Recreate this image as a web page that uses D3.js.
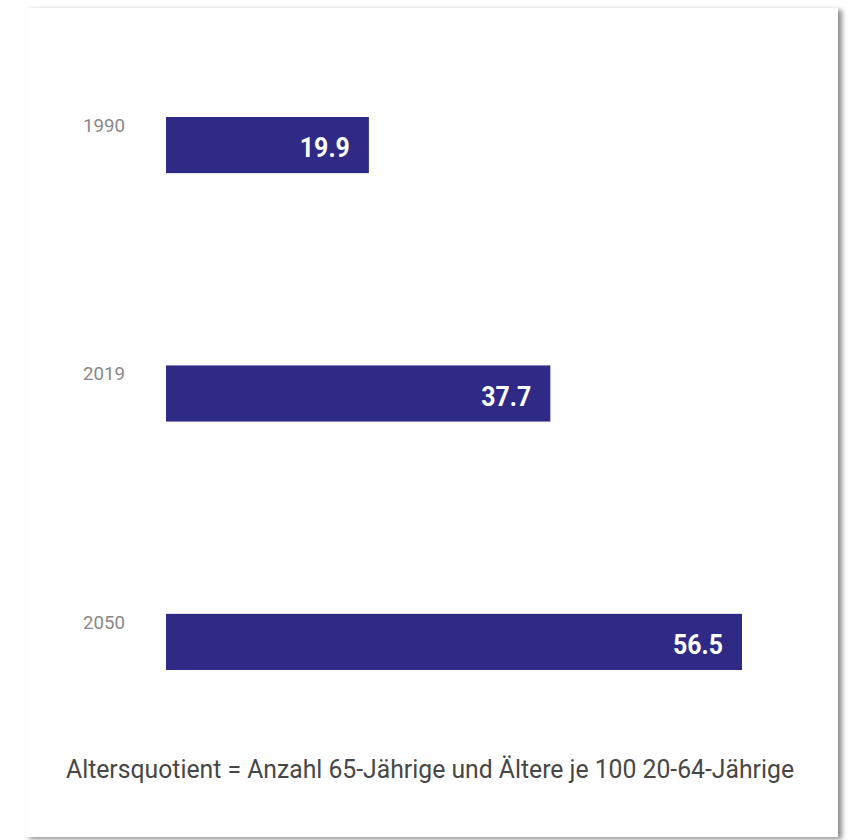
<!DOCTYPE html>
<html>
<head>
<meta charset="utf-8">
<script src="https://cdn.jsdelivr.net/npm/d3@7"></script>
<style>
  body { margin: 0; background: #ffffff; }
  svg { display: block; }
</style>
</head>
<body>
<div id="chart"></div>
<script>
// data
const years = ['1990', '2019', '2050'];
const values = [19.9, 37.7, 56.5];
const note = 'Altersquotient = Anzahl 65-Jährige und Ältere je 100 20-64-Jährige';

const width = 848, height = 840;
const svg = d3.select('#chart').append('svg')
    .attr('width', width).attr('height', height);

const defs = svg.append('defs');
const shadow = defs.append('filter').attr('id', 'shadow')
    .attr('x', '-5%').attr('y', '-5%').attr('width', '110%').attr('height', '110%');
shadow.append('feDropShadow')
    .attr('dx', 4).attr('dy', 2).attr('stdDeviation', 2.5)
    .attr('flood-color', '#000').attr('flood-opacity', 0.45);

// card
svg.append('rect')
    .attr('x', 25).attr('y', 8)
    .attr('width', 813).attr('height', 829)
    .attr('fill', '#fff')
    .attr('filter', 'url(#shadow)');

const x = d3.scaleLinear().domain([0, 56.5]).range([166, 742]);
const y = d3.scaleBand().domain(years).range([117, 670]).paddingInner(0.774).paddingOuter(0);

svg.append('g').selectAll('rect')
    .data(years)
    .join('rect')
        .attr('x', x(0))
        .attr('y', d => y(d))
        .attr('width', (d, i) => x(values[i]) - x(0))
        .attr('height', y.bandwidth())
        .attr('fill', '#2e2a86');

// year labels (condensed look)
svg.append('g').selectAll('text')
    .data(years)
    .join('text')
        .attr('x', 83)
        .attr('y', d => y(d) + 15)
        .style('font-family', 'Roboto')
        .style('font-size', '19px')
        .style('fill', '#888')
        .attr('textLength', 42)
        .attr('lengthAdjust', 'spacingAndGlyphs')
        .text(d => d);

// value labels inside bars
svg.append('g').selectAll('text')
    .data(years)
    .join('text')
        .attr('x', (d, i) => x(values[i]) - 19)
        .attr('y', d => y(d) + y.bandwidth() / 2 + 12)
        .attr('text-anchor', 'end')
        .style('font-family', 'Roboto')
        .style('font-weight', 700)
        .style('font-size', '27px')
        .style('fill', '#fff')
        .attr('textLength', 50)
        .attr('lengthAdjust', 'spacingAndGlyphs')
        .text((d, i) => d3.format('.1f')(values[i]));

svg.append('text')
    .attr('x', 66)
    .attr('y', 778)
    .style('font-family', 'Roboto')
    .style('font-size', '25px')
    .style('fill', '#474747')
    .attr('textLength', 728)
    .attr('lengthAdjust', 'spacingAndGlyphs')
    .text(note);
</script>
</body>
</html>
